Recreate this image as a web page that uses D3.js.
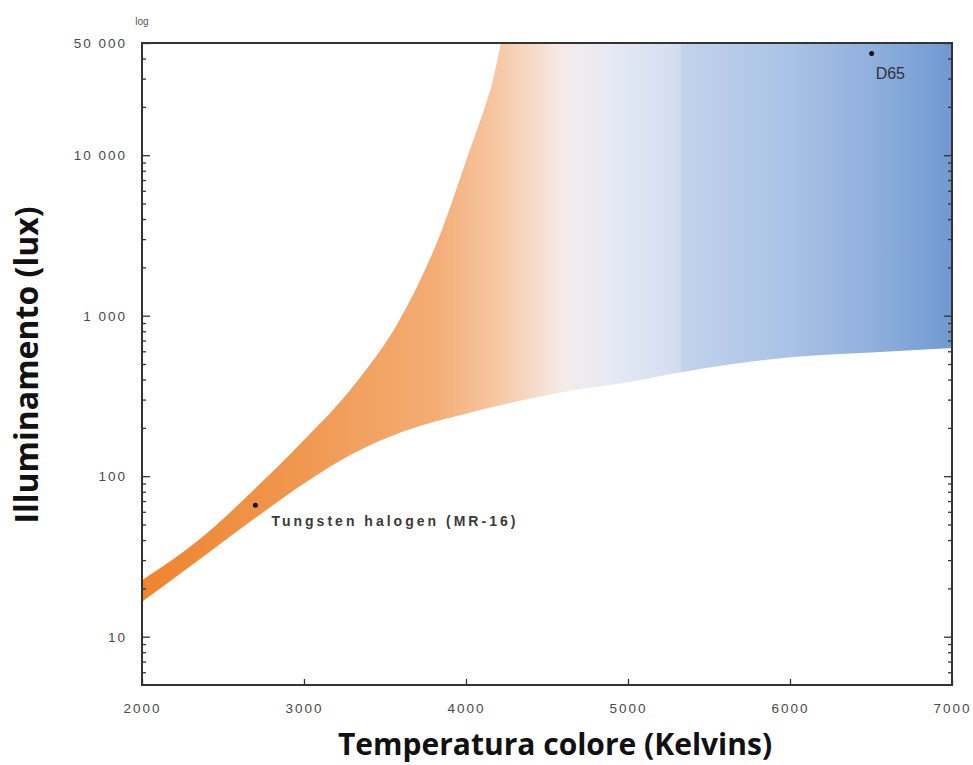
<!DOCTYPE html>
<html>
<head>
<meta charset="utf-8">
<script src="https://cdn.jsdelivr.net/npm/d3@7"></script>
<style>
  html, body { margin: 0; padding: 0; background: #fff; }
  svg { display: block; }
  .tick text { font-family: "Liberation Sans", Arial, sans-serif; font-size: 13.5px; fill: #4a4a4a; letter-spacing: 2px; }
  .tick line { stroke: #333; stroke-width: 1.3; }
  .axis .domain { display: none; }
  .axis-title { font-family: "Open Sans", "Noto Sans", sans-serif; font-weight: 700; fill: #111; }
  .pt-label { font-family: "Liberation Sans", Arial, sans-serif; fill: #333; }
</style>
</head>
<body>
<div id="chart"></div>
<script>
// Kruithof curve: comfortable illuminance band vs colour temperature
const kelvins   = [2000, 2350, 2700, 3000, 3300, 3600, 3850, 4000, 4150, 4300, 4600, 5000, 5300, 6000, 6500, 7000];
const upperLux  = [22.5, 40, 84, 168, 360, 980, 3400, 9200, 25500, 90000, 90000, 90000, 90000, 90000, 90000, 90000];
const lowerLux  = [16.5, 30, 55, 90, 138, 188, 225, 245, 268, 290, 335, 385, 440, 550, 590, 630];

const xTicks = [2000, 3000, 4000, 5000, 6000, 7000];
const yTicks = [10, 100, 1000, 10000, 50000];
const yTickLabels = ["10", "100", "1 000", "10 000", "50 000"];

// gradient along temperature: orange -> white -> blue
const gradKelvin = [2000, 3000, 3800, 4200, 4600, 4900, 5320, 5330, 6000, 6500, 7000];
const gradColor  = ["#ee8430", "#f09850", "#f3ac74", "#f6c8a4", "#f5ebe9", "#e6e9f4", "#d3dcef", "#c3d3ed", "#a9c2e5", "#90b0dd", "#7099d1"];

const points = [
  {name: "Tungsten halogen (MR-16)", k: 2700, lux: 66},
  {name: "D65", k: 6504, lux: 43000}
];

const W = 973, H = 765;
const margin = {top: 43, right: 21, bottom: 80, left: 142};

const svg = d3.select("#chart").append("svg").attr("width", W).attr("height", H);

const x = d3.scaleLinear().domain([2000, 7000]).range([margin.left, W - margin.right]);
const y = d3.scaleLog().domain([5, 50000]).range([H - margin.bottom, margin.top]);

// clip to plot box
svg.append("clipPath").attr("id", "plotclip")
  .append("rect")
  .attr("x", x.range()[0]).attr("y", y.range()[1])
  .attr("width", x.range()[1] - x.range()[0])
  .attr("height", y.range()[0] - y.range()[1]);

const grad = svg.append("defs").append("linearGradient")
  .attr("id", "band-grad")
  .attr("gradientUnits", "userSpaceOnUse")
  .attr("x1", x(2000)).attr("x2", x(7000))
  .attr("y1", 0).attr("y2", 0);
grad.selectAll("stop").data(gradKelvin).join("stop")
  .attr("offset", d => (d - 2000) / 5000)
  .attr("stop-color", (d, i) => gradColor[i]);

const bandData = kelvins.map((k, i) => ({k, hi: upperLux[i], lo: lowerLux[i]}));

const area = d3.area()
  .x(d => x(d.k))
  .y0(d => y(d.lo))
  .y1(d => y(d.hi))
  .curve(d3.curveMonotoneX);

svg.append("path")
  .datum(bandData)
  .attr("clip-path", "url(#plotclip)")
  .attr("fill", "url(#band-grad)")
  .attr("d", area);

// minor log ticks (2..9 per decade)
const minor = [];
[1, 10, 100, 1000, 10000].forEach(dec => {
  for (let m = 2; m <= 9; m++) {
    const v = dec * m;
    if (v > 5 && v < 50000 && !yTicks.includes(v)) minor.push(v);
  }
});

// left axis
svg.append("g").attr("class", "axis")
  .attr("transform", `translate(${margin.left},0)`)
  .call(d3.axisLeft(y).tickValues(yTicks).tickFormat((d, i) => yTickLabels[i]).tickSize(-8).tickSizeOuter(0).tickPadding(15));
svg.append("g").attr("class", "axis")
  .attr("transform", `translate(${margin.left},0)`)
  .call(d3.axisLeft(y).tickValues(minor).tickFormat("").tickSize(-4).tickSizeOuter(0));

// right axis (ticks only)
svg.append("g").attr("class", "axis")
  .attr("transform", `translate(${W - margin.right},0)`)
  .call(d3.axisRight(y).tickValues(yTicks).tickFormat("").tickSize(-8).tickSizeOuter(0));
svg.append("g").attr("class", "axis")
  .attr("transform", `translate(${W - margin.right},0)`)
  .call(d3.axisRight(y).tickValues(minor).tickFormat("").tickSize(-4).tickSizeOuter(0));

// bottom axis
svg.append("g").attr("class", "axis")
  .attr("transform", `translate(0,${H - margin.bottom})`)
  .call(d3.axisBottom(x).tickValues(xTicks).tickFormat(d3.format("d")).tickSize(-6).tickSizeOuter(0).tickPadding(18));

// frame
svg.append("rect")
  .attr("x", x.range()[0]).attr("y", y.range()[1])
  .attr("width", x.range()[1] - x.range()[0])
  .attr("height", y.range()[0] - y.range()[1])
  .attr("fill", "none").attr("stroke", "#333").attr("stroke-width", 2);

// "log" note above y axis
svg.append("text")
  .attr("x", margin.left).attr("y", 25)
  .attr("text-anchor", "middle")
  .style("font-family", "Liberation Sans, Arial, sans-serif")
  .style("font-size", "10px").style("fill", "#555")
  .text("log");

// points
svg.selectAll("circle.pt").data(points).join("circle")
  .attr("class", "pt")
  .attr("cx", d => x(d.k)).attr("cy", d => y(d.lux))
  .attr("r", 2.5).attr("fill", "#111");

svg.append("text").attr("class", "pt-label")
  .attr("x", x(points[0].k) + 16).attr("y", y(points[0].lux) + 21)
  .style("font-size", "14px").style("font-weight", "bold").style("fill", "#3a3a3a")
  .attr("textLength", 244).attr("lengthAdjust", "spacing")
  .text(points[0].name);

svg.append("text").attr("class", "pt-label")
  .attr("x", x(points[1].k) + 4).attr("y", y(points[1].lux) + 25)
  .style("font-size", "16px")
  .text(points[1].name);

// axis titles
svg.append("text").attr("class", "axis-title")
  .attr("x", 555).attr("y", 755)
  .attr("text-anchor", "middle")
  .style("font-size", "30px")
  .text("Temperatura colore (Kelvins)");

svg.append("text").attr("class", "axis-title")
  .attr("transform", "translate(38,365) rotate(-90)")
  .attr("text-anchor", "middle")
  .style("font-size", "32px")
  .text("Illuminamento (lux)");
</script>
</body>
</html>
